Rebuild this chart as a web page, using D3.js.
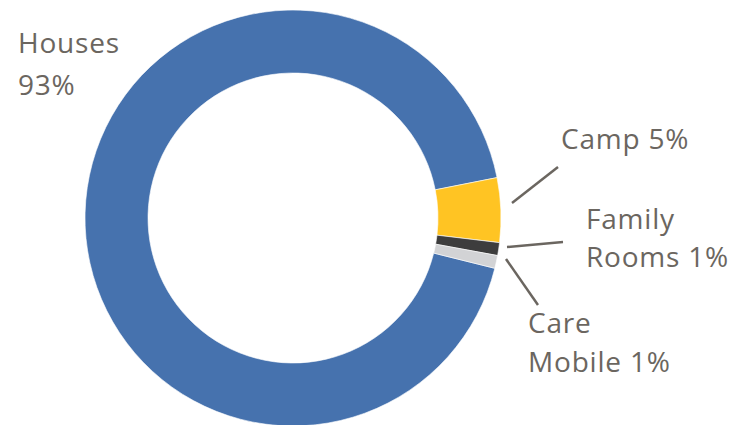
<!DOCTYPE html>
<html>
<head>
<meta charset="utf-8">
<script src="https://cdn.jsdelivr.net/npm/d3@7/dist/d3.min.js"></script>
<style>
  html, body { margin: 0; padding: 0; background: #ffffff; }
  svg { display: block; }
</style>
</head>
<body>
<svg id="chart" width="746" height="425"></svg>
<script>
// ---- data ----
const categories = ["Houses", "Camp", "Family Rooms", "Care Mobile"];
const values = [93, 5, 1, 1];
const labelLines = [["Houses", "93%"], ["Camp 5%"], ["Family", "Rooms 1%"], ["Care", "Mobile 1%"]];

// ---- style / layout ----
const colors = ["#4672ae", "#ffc423", "#3d3d3d", "#d2d3d5"];
const textColor = "#6b6660";
const W = 746, H = 425;
const cx = 293, cy = 218, outerR = 208, innerR = 145;
const startDeg = 104;

const labelLayout = [
  { x: 18, y: 53, lh: 42 },
  { x: 561, y: 149, lh: 40 },
  { x: 586, y: 229, lh: 38 },
  { x: 528, y: 333, lh: 39 }
];
const leaders = [
  null,
  [[512, 203], [558, 167]],
  [[507, 247], [563, 242]],
  [[506, 259], [538, 305]]
];

const svg = d3.select("#chart");
const data = categories.map((c, i) => ({ name: c, value: values[i], idx: i }));

const start = startDeg * Math.PI / 180;
const pie = d3.pie().sort(null).value(d => d.value)
  .startAngle(start).endAngle(start + 2 * Math.PI);
const arc = d3.arc().innerRadius(innerR).outerRadius(outerR);

const g = svg.append("g").attr("transform", `translate(${cx},${cy})`);
g.selectAll("path")
  .data(pie(data))
  .join("path")
  .attr("d", arc)
  .attr("fill", d => colors[d.data.idx])
  .attr("stroke", "#ffffff")
  .attr("stroke-width", 0.6);

// leader lines
svg.append("g").selectAll("line")
  .data(leaders.filter(l => l))
  .join("line")
  .attr("x1", d => d[0][0]).attr("y1", d => d[0][1])
  .attr("x2", d => d[1][0]).attr("y2", d => d[1][1])
  .attr("stroke", textColor)
  .attr("stroke-width", 2.5);

// labels
const lg = svg.append("g")
  .attr("font-family", "'Open Sans', sans-serif")
  .attr("font-size", 28)
  .attr("letter-spacing", 0.8)
  .attr("fill", textColor);
data.forEach((d, i) => {
  const L = labelLayout[i];
  const t = lg.append("text").attr("x", L.x).attr("y", L.y);
  labelLines[i].forEach((line, j) => {
    t.append("tspan").attr("x", L.x).attr("y", L.y + j * L.lh).text(line);
  });
});
</script>
</body>
</html>
